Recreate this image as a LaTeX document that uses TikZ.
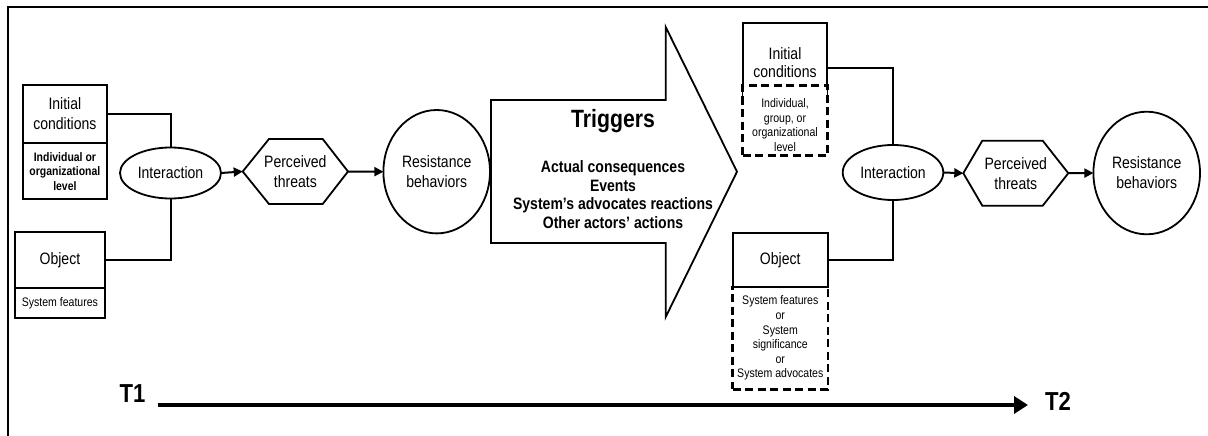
\documentclass[tikz,border=0pt]{standalone}
\usepackage{fontspec}
\setmainfont{Liberation Sans}[FakeStretch=0.85]
\usetikzlibrary{arrows.meta,shapes.geometric}

\tikzset{
  box/.style={draw, line width=1.7pt, inner sep=0pt, outer sep=0pt, align=center,
              font=\fontsize{16.5}{20}\selectfont},
  dbox/.style={draw, line width=2.8pt, dash pattern=on 8pt off 4.5pt, inner sep=0pt, outer sep=0pt},
  oval/.style={draw, ellipse, line width=1.8pt, inner sep=0pt, outer sep=0pt, align=center,
               font=\fontsize{16.5}{20}\selectfont},
  hexbox/.style={inner sep=0pt, outer sep=0pt, align=center, font=\fontsize{16.5}{20}\selectfont},
  hexline/.style={line width=1.8pt, line join=miter},
  link/.style={line width=2pt},
  flow/.style={line width=2pt, -{Triangle[length=9pt,width=9pt]}},
  small/.style={inner sep=0pt, align=center, font=\fontsize{12.4}{14.6}\selectfont},
  smallbold/.style={inner sep=0pt, align=center, font=\bfseries\fontsize{12.3}{14.5}\selectfont},
  listtext/.style={inner sep=0pt, align=center, font=\bfseries\fontsize{16.5}{18.7}\selectfont},
  timelabel/.style={inner sep=0pt, font=\bfseries\fontsize{26}{26}\selectfont},
}

\begin{document}
\begin{tikzpicture}[x=1pt, y=-1pt]
  \useasboundingbox (0,0) rectangle (1208,436);

  % outer frame (top and left edges)
  \draw[line width=2pt] (8,436) -- (8,7) -- (1208,7);

  % ---------- T1 ----------
  \node[box, minimum width=84.3pt, minimum height=58pt] (ic1) at (64.9,114) {Initial\\conditions};
  \node[box, minimum width=84.3pt, minimum height=56pt] (icl1) at (64.9,171) {};
  \node[smallbold] (icl1t) at (64.9,171.5) {Individual or\\organizational\\level};

  \node[box, minimum width=90.3pt, minimum height=56pt] (ob1) at (59.9,260) {Object};
  \node[box, minimum width=90.3pt, minimum height=30pt] (obl1) at (59.9,303) {};
  \node[small] (obl1t) at (59.9,303) {System features};

  \node[oval, minimum width=101pt, minimum height=51pt] (int1) at (170.5,173) {Interaction};

  \node[hexbox, minimum width=105.3pt, minimum height=65pt] (hex1) at (295.35,171.5) {Perceived\\threats};
  \draw[hexline] (hex1.west) -- ([xshift=26.3pt]hex1.north west) -- ([xshift=-25.3pt]hex1.north east)
    -- (hex1.east) -- ([xshift=-25.3pt]hex1.south east) -- ([xshift=26.3pt]hex1.south west) -- cycle;

  \node[oval, minimum width=106.6pt, minimum height=123.4pt] (res1) at (436.7,171.7) {Resistance\\behaviors};

  \draw[link] (ic1.east) -| (int1.north);
  \draw[link] (ob1.east) -| (int1.south);
  \draw[flow] (int1.east) -- (hex1.west);
  \draw[flow] (hex1.east) -- (res1.west);

  % ---------- triggers arrow ----------
  \draw[line width=1.8pt, line join=miter]
    (491,100) -- (665.7,100) -- (665.7,27) -- (737,171.7) -- (665.7,317) -- (665.7,243) -- (491,243) -- cycle;
  \node[inner sep=0pt, font=\bfseries\fontsize{25}{25}\selectfont] (trig) at (613,121) {Triggers};
  \node[listtext] (triglist) at (613,194.5)
    {Actual consequences\\Events\\System's advocates reactions\\Other actors' actions};

  % ---------- T2 ----------
  \node[box, minimum width=84.6pt, minimum height=73.7pt] (ic2) at (785,59.9) {};
  \node[inner sep=0pt, align=center, font=\fontsize{16.5}{18}\selectfont] (ic2t) at (785,62.5) {Initial\\conditions};
  \node[dbox, fill=white, minimum width=84.6pt, minimum height=70pt] (icl2) at (785,120.7) {};
  \node[small] (icl2t) at (785,125) {Individual,\\group, or\\organizational\\level};

  \node[box, minimum width=95pt, minimum height=54pt] (ob2) at (780.2,260.3) {Object};
  \node[dbox, minimum width=95.3pt, minimum height=102.3pt] (obl2) at (780.3,338.2) {};
  \node[small] (obl2t) at (780.3,338.2)
    {System features\\or\\System\\significance\\or\\System advocates};

  \node[oval, minimum width=100.6pt, minimum height=55pt] (int2) at (893,172.5) {Interaction};

  \node[hexbox, minimum width=105pt, minimum height=65pt] (hex2) at (1015.8,173.2) {Perceived\\threats};
  \draw[hexline] (hex2.west) -- ([xshift=19pt]hex2.north west) -- ([xshift=-25.6pt]hex2.north east)
    -- (hex2.east) -- ([xshift=-25.6pt]hex2.south east) -- ([xshift=19pt]hex2.south west) -- cycle;

  \node[oval, minimum width=106.6pt, minimum height=122.6pt] (res2) at (1146.7,173) {Resistance\\behaviors};

  \draw[link] ([yshift=-7.8pt]ic2.east) -| (int2.north);
  \draw[link] (ob2.east) -| (int2.south);
  \draw[flow] (int2.east) -- (hex2.west);
  \draw[flow] (hex2.east) -- (res2.west);

  % ---------- time line ----------
  \node[timelabel] (t1) at (132.5,393.5) {T1};
  \node[timelabel] (t2) at (1058,401) {T2};
  \coordinate (tstart) at (158,405);
  \coordinate (tend) at (1028,405);
  \draw[line width=4pt, -{Triangle[length=14pt,width=17pt]}] (tstart) -- (tend);
\end{tikzpicture}
\end{document}
